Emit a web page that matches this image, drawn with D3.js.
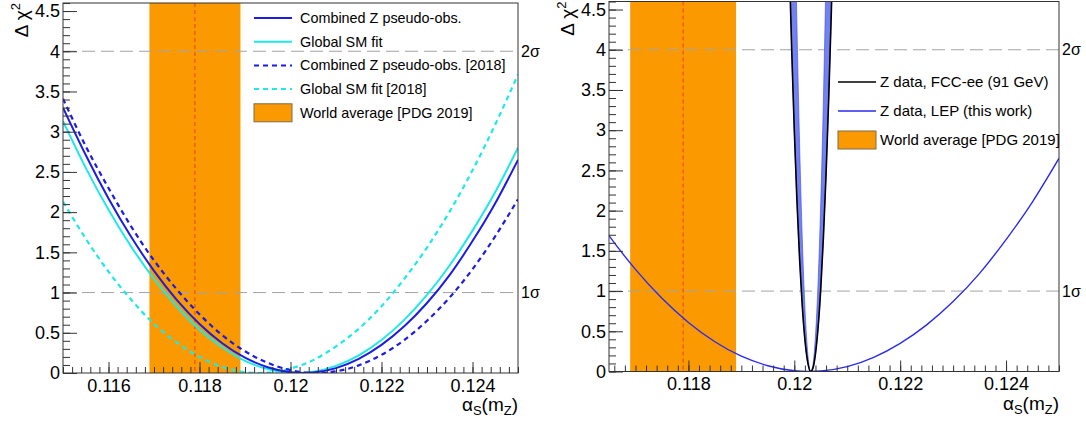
<!DOCTYPE html>
<html>
<head>
<meta charset="utf-8">
<script src="https://cdn.jsdelivr.net/npm/d3@7"></script>
<style>
  body { margin: 0; background: #fff; }
  text { font-family: "Liberation Sans", Arial, Helvetica, sans-serif; fill: #000; }
</style>
</head>
<body>
<svg id="chart" width="1086" height="425"></svg>
<script>
// alpha_s(mZ) grid and delta chi2 profiles
const alphaGrid = [0.1150, 0.1155, 0.1160, 0.1165, 0.1170, 0.1175, 0.1180, 0.1185, 0.1190, 0.1195, 0.1200,
                   0.1205, 0.1210, 0.1215, 0.1220, 0.1225, 0.1230, 0.1235, 0.1240, 0.1245, 0.1250]
const chi2Combined     = [3.30, 2.71, 2.17, 1.69, 1.27, 0.91, 0.61, 0.37, 0.19, 0.072, 0.009,
                          0.006, 0.061, 0.176, 0.35, 0.58, 0.87, 1.22, 1.64, 2.11, 2.65]
const chi2GlobalSM     = [3.13, 2.55, 2.03, 1.57, 1.17, 0.83, 0.54, 0.32, 0.15, 0.049, 0.002,
                          0.015, 0.088, 0.22, 0.41, 0.66, 0.97, 1.34, 1.77, 2.25, 2.80]
const chi2Combined2018 = [3.41, 2.82, 2.30, 1.82, 1.40, 1.04, 0.73, 0.47, 0.27, 0.126, 0.036,
                          0.001, 0.020, 0.095, 0.225, 0.41, 0.65, 0.94, 1.29, 1.70, 2.16]
const chi2GlobalSM2018 = [2.13, 1.67, 1.26, 0.91, 0.61, 0.38, 0.20, 0.075, 0.011, 0.004, 0.055,
                          0.16, 0.33, 0.55, 0.83, 1.17, 1.56, 2.01, 2.52, 3.09, 3.71]

// FCC-ee projection (narrow parabola) with its band
const fccGrid      = [0.11990, 0.11995, 0.12000, 0.12005, 0.12010, 0.12015, 0.12020, 0.12025, 0.12031,
                      0.12035, 0.12040, 0.12045, 0.12050, 0.12055, 0.12060, 0.12065, 0.12070, 0.12075]
const chi2FccOuter = [5.2, 4.02, 3.00, 2.12, 1.40, 0.82, 0.40, 0.13, 0.0,
                      0.037, 0.22, 0.55, 1.03, 1.67, 2.45, 3.39, 4.48, 5.71]
const chi2FccInner = [10.6, 8.17, 6.08, 4.30, 2.83, 1.67, 0.81, 0.26, 0.0,
                      0.075, 0.44, 1.12, 2.10, 3.38, 4.98, 6.88, 9.08, 11.6]

// PDG 2019 world average
const worldAvg = 0.1179
const worldErr = 0.0010

const sigmaLevels = [1, 4]
const sigmaLabels = ["1σ", "2σ"]
const yMajor = [0, 0.5, 1, 1.5, 2, 2.5, 3, 3.5, 4, 4.5]
const yMajorLabels = ["0", "0.5", "1", "1.5", "2", "2.5", "3", "3.5", "4", "4.5"]
const xMajorLeft = [0.116, 0.118, 0.120, 0.122, 0.124]
const xLabelsLeft = ["0.116", "0.118", "0.12", "0.122", "0.124"]
const xMajorRight = [0.118, 0.120, 0.122, 0.124]
const xLabelsRight = ["0.118", "0.12", "0.122", "0.124"]

const legendLeft = ["Combined Z pseudo-obs.", "Global SM fit", "Combined Z pseudo-obs. [2018]",
                    "Global SM fit [2018]", "World average [PDG 2019]"]
const legendRight = ["Z data, FCC-ee (91 GeV)", "Z data, LEP (this work)", "World average [PDG 2019]"]

const BLUE = "#1c1ce4", CYAN = "#1ee8e8", ORANGE = "#fb9a00"

const svg = d3.select("#chart")

function drawPanel(p) {
	const g = svg.append("g")
	const x = d3.scaleLinear().domain(p.xDomain).range([p.left, p.right])
	const y = d3.scaleLinear().domain([0, 4.6]).range([p.bottom, p.top])

	g.append("clipPath").attr("id", p.id)
		.append("rect").attr("x", p.left).attr("y", p.top)
		.attr("width", p.right - p.left).attr("height", p.bottom - p.top)
	const plot = g.append("g").attr("clip-path", `url(#${p.id})`)

	// world average band
	plot.append("rect")
		.attr("x", x(worldAvg - worldErr)).attr("y", p.top)
		.attr("width", x(worldAvg + worldErr) - x(worldAvg - worldErr))
		.attr("height", p.bottom - p.top)
		.attr("fill", ORANGE)
	plot.append("line")
		.attr("x1", x(worldAvg)).attr("x2", x(worldAvg))
		.attr("y1", p.top).attr("y2", p.bottom)
		.attr("stroke", "#ee3b1e").attr("stroke-width", 1).attr("stroke-dasharray", "4,3")

	// 1 sigma / 2 sigma lines
	sigmaLevels.forEach((lv, i) => {
		plot.append("line")
			.attr("x1", p.left).attr("x2", p.right)
			.attr("y1", y(lv)).attr("y2", y(lv))
			.attr("stroke", "#a3a3a3").attr("stroke-width", 1).attr("stroke-dasharray", "13,6")
		g.append("text")
			.attr("x", p.right + 3).attr("y", y(lv)).attr("dy", "0.35em")
			.attr("font-size", 16).text(sigmaLabels[i])
	})

	p.drawCurves(plot, x, y)

	// frame
	g.append("rect")
		.attr("x", p.left).attr("y", p.top)
		.attr("width", p.right - p.left).attr("height", p.bottom - p.top)
		.attr("fill", "none").attr("stroke", "#333").attr("stroke-width", 1)

	// axes
	const yMinor = d3.ticks(0, 4.6, 46)
	const yAxisMinor = g.append("g").attr("transform", `translate(${p.left},0)`)
		.call(d3.axisLeft(y).tickValues(yMinor).tickSize(-7).tickFormat(""))
	const yAxis = g.append("g").attr("transform", `translate(${p.left},0)`)
		.call(d3.axisLeft(y).tickValues(yMajor).tickSize(-14).tickPadding(3)
			.tickFormat((d, i) => yMajorLabels[i]))
	const xMinor = d3.range(Math.ceil(p.xDomain[0] / 0.0002 - 1e-6), Math.floor(p.xDomain[1] / 0.0002 + 1e-6) + 1)
		.map(i => i * 0.0002)
	const xAxisMinor = g.append("g").attr("transform", `translate(0,${p.bottom})`)
		.call(d3.axisBottom(x).tickValues(xMinor).tickSize(-6).tickFormat(""))
	const xAxis = g.append("g").attr("transform", `translate(0,${p.bottom})`)
		.call(d3.axisBottom(x).tickValues(p.xMajor).tickSize(-11).tickPadding(6)
			.tickFormat((d, i) => p.xLabels[i]))
	;[yAxisMinor, yAxis, xAxisMinor, xAxis].forEach(a => {
		a.select(".domain").remove()
		a.selectAll(".tick line").attr("stroke", "#333")
		a.selectAll("text").attr("font-size", 18).attr("font-family", null)
	})

	// axis titles
	const xt = g.append("text")
		.attr("x", p.right).attr("y", p.bottom + 38)
		.attr("text-anchor", "end").attr("font-size", 19)
	xt.append("tspan").text("α")
	xt.append("tspan").attr("font-size", 13).attr("dy", 4).text("S")
	xt.append("tspan").attr("dy", -4).text("(m")
	xt.append("tspan").attr("font-size", 13).attr("dy", 4).text("Z")
	xt.append("tspan").attr("dy", -4).text(")")

	const yt = g.append("text")
		.attr("transform", `translate(${p.left - 35},${p.top})rotate(-90)`)
		.attr("text-anchor", "end").attr("font-size", 19)
	yt.append("tspan").text("Δ χ")
	yt.append("tspan").attr("font-size", 13).attr("dy", -8).text("2")

	// legend
	const lg = g.append("g")
	p.legend.forEach((e, i) => {
		const ly = p.legY + i * p.legStep
		if (e.type === "box") {
			lg.append("rect").attr("x", p.legX).attr("y", ly - 9)
				.attr("width", 38).attr("height", 18)
				.attr("fill", ORANGE).attr("stroke", "#7d6a52").attr("stroke-width", 1)
		} else {
			lg.append("line").attr("x1", p.legX).attr("x2", p.legX + 38)
				.attr("y1", ly).attr("y2", ly)
				.attr("stroke", e.color).attr("stroke-width", e.width)
				.attr("stroke-dasharray", e.dash || null)
		}
		lg.append("text").attr("x", p.legX + p.legGap).attr("y", ly).attr("dy", "0.35em")
			.attr("font-size", p.legFont).text(e.label)
	})
}

function curve(plot, xs, vs, x, y, color, width, dash, kind) {
	const line = d3.line()
		.x((d, i) => x(xs[i])).y(d => y(d))
		.curve(kind || d3.curveNatural)
	plot.append("path").datum(vs)
		.attr("d", line)
		.attr("fill", "none").attr("stroke", color).attr("stroke-width", width)
		.attr("stroke-dasharray", dash || null)
}

drawPanel({
	id: "clipL", left: 63, right: 518, top: 3, bottom: 373,
	xDomain: [0.115, 0.125], xMajor: xMajorLeft, xLabels: xLabelsLeft,
	legX: 254, legY: 18, legStep: 23.7, legGap: 46, legFont: 14.4,
	legend: [
		{ label: legendLeft[0], color: BLUE, width: 2 },
		{ label: legendLeft[1], color: CYAN, width: 2 },
		{ label: legendLeft[2], color: BLUE, width: 2, dash: "5,4" },
		{ label: legendLeft[3], color: CYAN, width: 2, dash: "5,4" },
		{ label: legendLeft[4], type: "box" }
	],
	drawCurves: (plot, x, y) => {
		curve(plot, alphaGrid, chi2GlobalSM2018, x, y, CYAN, 2.2, "5,4")
		curve(plot, alphaGrid, chi2Combined2018, x, y, BLUE, 2.2, "5,4")
		curve(plot, alphaGrid, chi2GlobalSM, x, y, CYAN, 2)
		curve(plot, alphaGrid, chi2Combined, x, y, BLUE, 2)
	}
})

drawPanel({
	id: "clipR", left: 609, right: 1059, top: 1.5, bottom: 371.5,
	xDomain: [0.1165, 0.125], xMajor: xMajorRight, xLabels: xLabelsRight,
	legX: 838, legY: 82, legStep: 29, legGap: 42, legFont: 15,
	legend: [
		{ label: legendRight[0], color: "#000", width: 1.5 },
		{ label: legendRight[1], color: "#2a2af2", width: 1.5 },
		{ label: legendRight[2], type: "box" }
	],
	drawCurves: (plot, x, y) => {
		curve(plot, alphaGrid, chi2Combined, x, y, "#2a2af2", 1.4)
		const band = d3.area()
			.x((d, i) => x(fccGrid[i]))
			.y0(d => y(d[0])).y1(d => y(d[1]))
			.curve(d3.curveMonotoneX)
		plot.append("path").datum(chi2FccOuter.map((v, i) => [v, chi2FccInner[i]]))
			.attr("d", band).attr("fill", "#7382f2").attr("stroke", "#3b45e8").attr("stroke-width", 0.6)
		curve(plot, fccGrid, chi2FccOuter, x, y, "#000", 1.6, null, d3.curveMonotoneX)
	}
})
</script>
</body>
</html>
